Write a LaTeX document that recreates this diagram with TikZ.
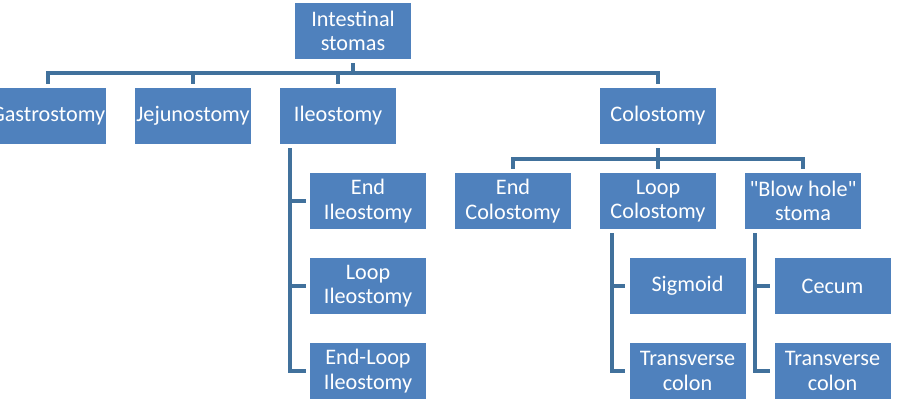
\documentclass[tikz,border=0pt]{standalone}
\usepackage{fontspec}
\setmainfont{Carlito}
\newfontfamily\boxfont{Carlito}
\usetikzlibrary{positioning}
\definecolor{boxblue}{HTML}{4F81BD}
\definecolor{linkblue}{HTML}{41719C}
\begin{document}
\begin{tikzpicture}[x=1pt,y=1pt,node distance=85pt and 145pt,on grid,
		box/.style={rectangle, fill=boxblue, text=white, minimum width=116pt, minimum height=56pt,
			inner sep=0pt, align=center, font=\boxfont\fontsize{22.2}{24.5}\selectfont},
		link/.style={draw=linkblue, line width=3.5pt, shorten <=4pt, shorten >=4pt}]
		\useasboundingbox (0,0) rectangle (897,-406);

		\node[box] 	(stomas) 	at (353,-31) 				{Intestinal\\stomas};
		\node[box] 	(ileo) 		at (338,-116) 				{Ileostomy};
		\node[box] 	(jeju) 		[left=of ileo] 				{Jejunostomy};
		\node[box] 	(gastro) 	[left=of jeju] 				{Gastrostomy};
		\node[box] 	(colo) 		at (658,-116) 				{Colostomy};

		\node[box] 	(endi) 		[below right=85pt and 30pt of ileo] 	{End\\Ileostomy};
		\node[box] 	(loopi) 	[below=of endi] 			{Loop\\Ileostomy};
		\node[box] 	(endloopi) 	[below=of loopi] 			{End-Loop\\Ileostomy};

		\node[box] 	(loopc) 	[below=of colo] 			{Loop\\Colostomy};
		\node[box] 	(endc) 		[left=of loopc] 			{End\\Colostomy};
		\node[box] 	(blow) 		[right=of loopc] 			{"Blow hole"\\stoma};

		\node[box] 	(sigmoid) 	[below right=85pt and 29.5pt of loopc] 	{Sigmoid};
		\node[box] 	(transl) 	[below=of sigmoid] 			{Transverse\\colon};
		\node[box] 	(cecum) 	[below right=85pt and 29.5pt of blow] 	{Cecum};
		\node[box] 	(transb) 	[below=of cecum] 			{Transverse\\colon};

		% first level
		\draw[link] (stomas.south) -- ++(0,-14) -| (gastro.north);
		\draw[link] (stomas.south) -- ++(0,-14) -| (jeju.north);
		\draw[link] (stomas.south) -- ++(0,-14) -| (ileo.north);
		\draw[link] (stomas.south) -- ++(0,-14) -| (colo.north);

		% colostomy types
		\draw[link] (colo.south) -- ++(0,-15) -| (endc.north);
		\draw[link] (colo.south) -- (loopc.north);
		\draw[link] (colo.south) -- ++(0,-15) -| (blow.north);

		% side branches
		\draw[link] ([xshift=10pt]ileo.south west) |- (endi.west);
		\draw[link] ([xshift=10pt]ileo.south west) |- (loopi.west);
		\draw[link] ([xshift=10pt]ileo.south west) |- (endloopi.west);
		\draw[link] ([xshift=12pt]loopc.south west) |- (sigmoid.west);
		\draw[link] ([xshift=12pt]loopc.south west) |- (transl.west);
		\draw[link] ([xshift=10pt]blow.south west) |- (cecum.west);
		\draw[link] ([xshift=10pt]blow.south west) |- (transb.west);
\end{tikzpicture}
\end{document}
